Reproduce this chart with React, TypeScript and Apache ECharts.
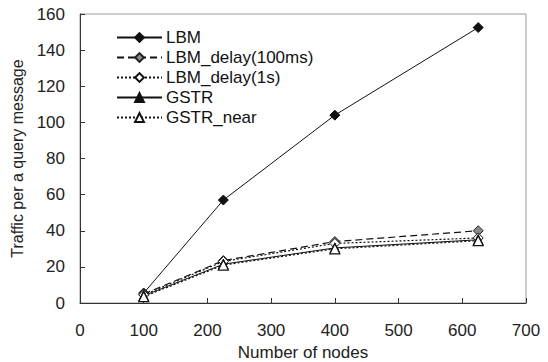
import React, { useEffect, useRef } from "react";
import * as echarts from "echarts";

const nodes = [100, 225, 400, 625];
const lbm = [5.5, 57, 104, 152.5];
const lbmDelay100ms = [5, 23.5, 34, 40];
const lbmDelay1s = [4.5, 23, 33, 36];
const gstr = [4, 21.5, 30.5, 35];
const gstrNear = [3.5, 21, 30, 34.5];

const FONT = "Liberation Sans";

export default function App() {
  const ref = useRef<HTMLDivElement>(null);
  useEffect(() => {
    const chart = echarts.init(ref.current!, null, { renderer: "svg" });
    const mk = (arr: number[]) => nodes.map((x, i) => [x, arr[i]]);
    const base = {
      type: "line",
      symbolSize: 10,
      lineStyle: { width: 1, color: "#111" },
      z: 2,
    };
    chart.setOption({
      animation: false,
      textStyle: { fontFamily: FONT },
      grid: {
        left: 80,
        right: 22,
        top: 14,
        bottom: 59,
        containLabel: false,
        outerBoundsMode: "none",
        show: true,
        borderColor: "#999",
        borderWidth: 1,
      },
      legend: {
        left: 111,
        top: 24,
        orient: "vertical",
        itemWidth: 45,
        itemHeight: 11,
        itemGap: 3,
        textStyle: { fontFamily: FONT, fontSize: 17, color: "#111", padding: [0, 0, 0, -1] },
        data: ["LBM", "LBM_delay(100ms)", "LBM_delay(1s)", "GSTR", "GSTR_near"],
      },
      xAxis: {
        type: "value",
        min: 0,
        max: 700,
        interval: 100,
        name: "Number of nodes",
        nameLocation: "middle",
        nameGap: 40,
        nameTextStyle: { fontFamily: FONT, fontSize: 17, color: "#222" },
        axisLine: { lineStyle: { color: "#333" } },
        axisTick: { inside: true, length: 5, lineStyle: { color: "#333" } },
        axisLabel: { fontFamily: FONT, fontSize: 17, color: "#222", margin: 19 },
        splitLine: { show: false },
      },
      yAxis: {
        type: "value",
        min: 0,
        max: 160,
        interval: 20,
        name: "Traffic per a query message",
        nameLocation: "middle",
        nameGap: 45,
        nameTextStyle: { fontFamily: FONT, fontSize: 16, color: "#222" },
        axisLine: { show: true, lineStyle: { color: "#333" } },
        axisTick: { show: true, inside: true, length: 5, lineStyle: { color: "#333" } },
        axisLabel: { fontFamily: FONT, fontSize: 17, color: "#222", margin: 15 },
        splitLine: { show: false },
      },
      series: [
        {
          ...base,
          name: "LBM",
          data: mk(lbm),
          symbol: "diamond",
          itemStyle: { color: "#111", borderColor: "#111", borderWidth: 1 },
          lineStyle: { width: 1, color: "#111", type: "solid" },
        },
        {
          ...base,
          name: "LBM_delay(100ms)",
          data: mk(lbmDelay100ms),
          symbol: "diamond",
          itemStyle: { color: "#8a8a8a", borderColor: "#222", borderWidth: 1 },
          lineStyle: { width: 1.2, color: "#111", type: [7, 4] },
        },
        {
          ...base,
          name: "LBM_delay(1s)",
          data: mk(lbmDelay1s),
          symbol: "diamond",
          itemStyle: { color: "#fff", borderColor: "#111", borderWidth: 1 },
          lineStyle: { width: 1.2, color: "#111", type: [2, 2] },
        },
        {
          ...base,
          name: "GSTR",
          data: mk(gstr),
          symbol: "triangle",
          itemStyle: { color: "#111", borderColor: "#111", borderWidth: 1 },
          lineStyle: { width: 1, color: "#111", type: "solid" },
        },
        {
          ...base,
          name: "GSTR_near",
          data: mk(gstrNear),
          symbol: "triangle",
          itemStyle: { color: "#fff", borderColor: "#111", borderWidth: 1.2 },
          lineStyle: { width: 1.2, color: "#111", type: [2, 2] },
        },
      ],
    });
    return () => chart.dispose();
  }, []);
  return <div ref={ref} style={{ width: 548, height: 362, position: "absolute", left: 0, top: 0 }} />;
}
